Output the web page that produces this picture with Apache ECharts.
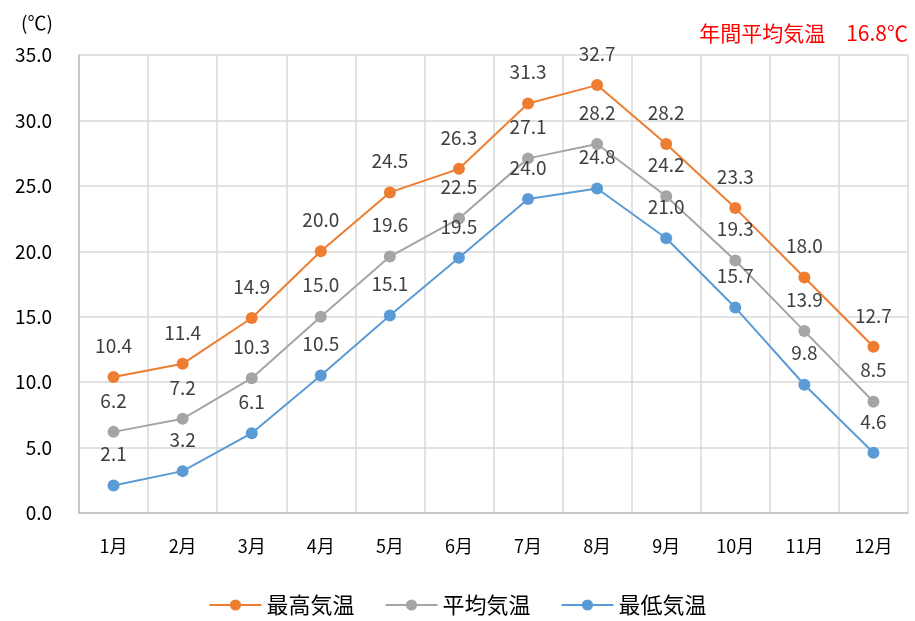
<!DOCTYPE html>
<html>
<head>
<meta charset="utf-8">
<script src="https://cdn.jsdelivr.net/npm/echarts@6/dist/echarts.min.js"></script>
<style>
  html, body { margin: 0; padding: 0; background: #fff; }
  #main { width: 915px; height: 621px; }
</style>
</head>
<body>
<div id="main"></div>
<script>
var months = ['1月','2月','3月','4月','5月','6月','7月','8月','9月','10月','11月','12月'];
var maxTemp = [10.4, 11.4, 14.9, 20.0, 24.5, 26.3, 31.3, 32.7, 28.2, 23.3, 18.0, 12.7];
var avgTemp = [6.2, 7.2, 10.3, 15.0, 19.6, 22.5, 27.1, 28.2, 24.2, 19.3, 13.9, 8.5];
var minTemp = [2.1, 3.2, 6.1, 10.5, 15.1, 19.5, 24.0, 24.8, 21.0, 15.7, 9.8, 4.6];
var annualAvg = '16.8';

var font = '"Noto Sans CJK JP", "Noto Sans", sans-serif';

function makeSeries(name, data, color) {
    return {
        name: name,
        type: 'line',
        data: data,
        symbol: 'circle',
        symbolSize: 12,
        lineStyle: { color: color, width: 2 },
        itemStyle: { color: color },
        label: {
            show: true,
            position: 'top',
            distance: 16,
            color: '#404040',
            fontSize: 19,
            fontFamily: font,
            formatter: function (p) { return p.value.toFixed(1); }
        }
    };
}

var myChart = echarts.init(document.getElementById('main'));
var option = {
    animation: false,
    textStyle: { fontFamily: font },
    title: [
        {
            text: '(℃)',
            left: 16,
            top: 8,
            textStyle: { fontSize: 19, fontWeight: 'normal', color: '#000', fontFamily: font }
        },
        {
            text: '年間平均気温　' + annualAvg + '℃',
            right: 2,
            top: 18,
            textStyle: { fontSize: 21, fontWeight: 'normal', color: '#ff0000', fontFamily: font }
        }
    ],
    legend: {
        bottom: 0,
        left: 'center',
        itemWidth: 52,
        itemHeight: 14,
        itemGap: 30,
        textStyle: { fontSize: 22, color: '#000', fontFamily: font },
        data: ['最高気温', '平均気温', '最低気温']
    },
    grid: {
        left: 79,
        right: 7,
        top: 55,
        bottom: 108
    },
    xAxis: {
        type: 'category',
        data: months,
        boundaryGap: true,
        axisTick: { show: false },
        axisLine: { lineStyle: { color: '#BFBFBF', width: 1.5 } },
        splitLine: { show: true, lineStyle: { color: '#D9D9D9', width: 1.5 } },
        axisLabel: { fontSize: 18, color: '#000', margin: 24, fontFamily: font }
    },
    yAxis: {
        type: 'value',
        min: 0,
        max: 35,
        interval: 5,
        axisLine: { show: true, lineStyle: { color: '#BFBFBF', width: 1.5 } },
        axisTick: { show: false },
        splitLine: { lineStyle: { color: '#D9D9D9', width: 1.5 } },
        axisLabel: {
            fontSize: 19,
            color: '#000',
            margin: 27,
            fontFamily: font,
            formatter: function (v) { return v.toFixed(1); }
        }
    },
    series: [
        makeSeries('最高気温', maxTemp, '#ED7D31'),
        makeSeries('平均気温', avgTemp, '#A5A5A5'),
        makeSeries('最低気温', minTemp, '#5B9BD5')
    ]
};
myChart.setOption(option);
window.onresize = myChart.resize;
</script>
</body>
</html>
